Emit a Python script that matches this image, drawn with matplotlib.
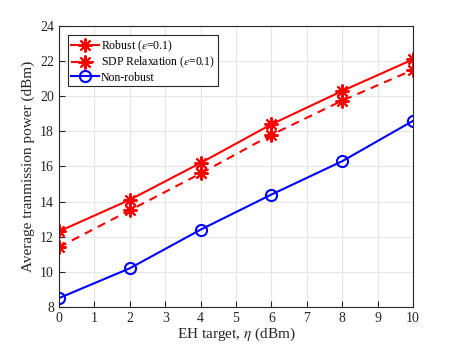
import matplotlib.pyplot as plt
import numpy as np

plt.rcParams['font.family'] = ['Liberation Serif', 'DejaVu Serif']
plt.rcParams['mathtext.fontset'] = 'stix'

# Data
eh_target = [0, 2, 4, 6, 8, 10]
robust = [12.3, 14.1, 16.2, 18.4, 20.3, 22.1]
sdp_relax = [11.4, 13.5, 15.6, 17.8, 19.75, 21.5]
non_robust = [8.5, 10.2, 12.4, 14.4, 16.3, 18.6]

fig = plt.figure(figsize=(4.57, 3.46), dpi=100)
ax = fig.add_axes([0.129, 0.113, 0.775, 0.812])

ax.plot(eh_target, robust, color='red', linewidth=1.5,
        marker=(8, 2, 0), markersize=10, markeredgewidth=1.5,
        label=r'Robust ($\epsilon$=0.1)')
ax.plot(eh_target, sdp_relax, color='red', linewidth=1.5, linestyle='--',
        dashes=(4, 3), marker=(8, 2, 0), markersize=10, markeredgewidth=1.5,
        label=r'SDP Relaxation ($\epsilon$=0.1)')
ax.plot(eh_target, non_robust, color='blue', linewidth=1.5,
        marker='o', markersize=8, markerfacecolor='none',
        markeredgewidth=1.5, label='Non-robust')

ax.set_xlim(0, 10)
ax.set_ylim(8, 24)
ax.set_xticks(np.arange(0, 11, 1))
ax.set_yticks(np.arange(8, 25, 2))
ax.tick_params(direction='in', labelsize=10, colors='#262626', length=4)
ax.grid(color='#e6e6e6', linewidth=0.8)
for s in ax.spines.values():
    s.set_color('#262626')
    s.set_linewidth(0.8)

ax.set_xlabel(r'EH target, $\eta$ (dBm)', fontsize=11, color='#262626',
              labelpad=1)
ax.set_ylabel('Average tranmission power (dBm)', fontsize=11, color='#262626',
              labelpad=4)

leg = ax.legend(loc='upper left', fontsize=8.5, fancybox=False, framealpha=1,
                edgecolor='#262626', handlelength=2.3, borderaxespad=0.8,
                labelspacing=0.1, borderpad=0.25, handletextpad=0.2)
leg.get_frame().set_linewidth(0.8)

fig.savefig('out.png', dpi=100)
